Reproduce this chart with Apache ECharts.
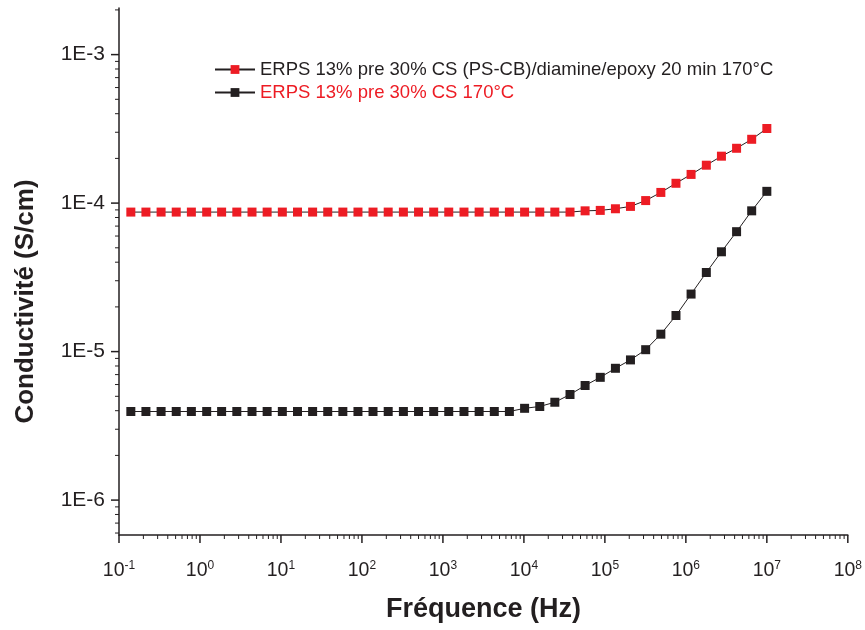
<!DOCTYPE html>
<html>
<head>
<meta charset="utf-8">
<script src="https://cdn.jsdelivr.net/npm/echarts@6/dist/echarts.min.js"></script>
<style>html,body{margin:0;padding:0;background:#fff;}#c{width:865px;height:630px;}</style>
</head>
<body>
<div id="c"></div>
<script>
// Frequencies (Hz)
var freq = [0.14, 0.215, 0.331, 0.509, 0.783, 1.21, 1.85, 2.85, 4.39, 6.75,
  10.4, 16.0, 24.6, 37.8, 58.1, 89.3, 137, 211, 325, 500,
  769, 1180, 1820, 2800, 4310, 6620, 10200, 15700, 24100, 37100,
  57000, 87700, 135000, 207000, 319000, 491000, 755000, 1160000, 1790000, 2750000,
  4230000, 6500000, 10000000];

var seriesNames = [
  'ERPS 13% pre 30% CS (PS-CB)/diamine/epoxy 20 min 170°C',
  'ERPS 13% pre 30% CS 170°C'
];

// Red series (S/cm)
var redValues = [8.7e-5, 8.7e-5, 8.7e-5, 8.7e-5, 8.7e-5, 8.7e-5, 8.7e-5, 8.7e-5, 8.7e-5, 8.7e-5,
  8.7e-5, 8.7e-5, 8.7e-5, 8.7e-5, 8.7e-5, 8.7e-5, 8.7e-5, 8.7e-5, 8.7e-5, 8.7e-5,
  8.7e-5, 8.7e-5, 8.7e-5, 8.7e-5, 8.7e-5, 8.7e-5, 8.7e-5, 8.7e-5, 8.7e-5, 8.7e-5,
  8.87e-5, 8.93e-5, 9.16e-5, 9.5e-5, 1.04e-4, 1.18e-4, 1.36e-4, 1.56e-4, 1.80e-4, 2.07e-4,
  2.34e-4, 2.69e-4, 3.18e-4];

// Black series (S/cm)
var blackValues = [3.95e-6, 3.95e-6, 3.95e-6, 3.95e-6, 3.95e-6, 3.95e-6, 3.95e-6, 3.95e-6, 3.95e-6, 3.95e-6,
  3.95e-6, 3.95e-6, 3.95e-6, 3.95e-6, 3.95e-6, 3.95e-6, 3.95e-6, 3.95e-6, 3.95e-6, 3.95e-6,
  3.95e-6, 3.95e-6, 3.95e-6, 3.95e-6, 3.95e-6, 3.95e-6, 4.15e-6, 4.27e-6, 4.56e-6, 5.14e-6,
  5.91e-6, 6.71e-6, 7.72e-6, 8.79e-6, 1.03e-5, 1.31e-5, 1.75e-5, 2.44e-5, 3.41e-5, 4.70e-5,
  6.42e-5, 8.87e-5, 1.20e-4];

// Axis ranges and major tick exponents
var xMin = 0.1, xMax = 1e8;
var yMin = 5.82e-7, yMax = 2.06e-3;
var xExponents = [-1, 0, 1, 2, 3, 4, 5, 6, 7, 8];
var yExponents = [-7, -6, -5, -4, -3];

function pairs(xs, ys) {
  var out = [];
  for (var i = 0; i < xs.length; i++) out.push([xs[i], ys[i]]);
  return out;
}

var RED = '#ED1C24', BLACK = '#231F20';
var FONT = '"Liberation Sans", Arial, sans-serif';

var chart = echarts.init(document.getElementById('c'), null, {renderer: 'canvas'});
chart.setOption({
  animation: false,
  backgroundColor: '#fff',
  grid: {left: 119, right: 15, top: 8, bottom: 95, containLabel: false},
  legend: {
    left: 209, top: 55, orient: 'vertical', itemGap: 4,
    itemWidth: 40, itemHeight: 11,
    textStyle: {fontFamily: FONT, fontSize: 18.5},
    data: [
      {name: seriesNames[0], textStyle: {color: BLACK}},
      {name: seriesNames[1], textStyle: {color: RED}}
    ]
  },
  xAxis: {
    type: 'log', logBase: 10, min: xMin, max: xMax, splitNumber: 9,
    name: 'Fréquence (Hz)', nameLocation: 'middle', nameGap: 61,
    nameTextStyle: {fontFamily: FONT, fontSize: 27, fontWeight: 'bold', color: BLACK},
    axisLine: {show: true, onZero: false, lineStyle: {color: BLACK, width: 1.5}},
    axisTick: {show: false},
    minorTick: {show: false},
    splitLine: {show: false},
    axisLabel: {
      margin: 25, color: BLACK, fontFamily: FONT,
      formatter: function (v) {
        var e = Math.round(Math.log10(v));
        return '{b|10}{s|' + e + '}';
      },
      rich: {
        b: {fontSize: 19.5, fontFamily: FONT, color: BLACK},
        s: {fontSize: 12, fontFamily: FONT, color: BLACK, padding: [0, 0, 10, 0]}
      }
    }
  },
  yAxis: {
    type: 'log', logBase: 10, min: yMin, max: yMax,
    name: 'Conductivité (S/cm)', nameLocation: 'middle', nameGap: 80,
    nameTextStyle: {fontFamily: FONT, fontSize: 26, fontWeight: 'bold', color: BLACK,
      padding: [0, 60, 0, 0]},
    axisLine: {show: true, onZero: false, lineStyle: {color: BLACK, width: 1.5}},
    axisTick: {show: false},
    minorTick: {show: false},
    splitLine: {show: false},
    axisLabel: {
      margin: 14, color: BLACK, fontFamily: FONT, fontSize: 21,
      showMinLabel: false, showMaxLabel: false,
      formatter: function (v) {
        var l = Math.log10(v);
        if (Math.abs(l - Math.round(l)) > 1e-6) return '';
        return '1E' + Math.round(l);
      }
    }
  },
  series: [
    {
      name: seriesNames[0], type: 'line', data: pairs(freq, redValues),
      symbol: 'rect', symbolSize: 9,
      itemStyle: {color: RED},
      lineStyle: {color: BLACK, width: 1}
    },
    {
      name: seriesNames[1], type: 'line', data: pairs(freq, blackValues),
      symbol: 'rect', symbolSize: 9,
      itemStyle: {color: BLACK},
      lineStyle: {color: BLACK, width: 1}
    }
  ]
});

// Log-distributed major/minor ticks drawn through the axis scales
var ticks = [];
var origin = chart.convertToPixel({gridIndex: 0}, [xMin, yMin]);
var x0 = origin[0], y0 = origin[1];
function addLine(x1, y1, x2, y2, w) {
  ticks.push({type: 'line', silent: true, z: 10,
    shape: {x1: x1, y1: y1, x2: x2, y2: y2},
    style: {stroke: BLACK, lineWidth: w}});
}
xExponents.forEach(function (e) {
  for (var k = 1; k <= 9; k++) {
    var v = k * Math.pow(10, e);
    if (v < xMin - 1e-12 || v > xMax * 1.0000001) continue;
    var px = chart.convertToPixel({xAxisIndex: 0}, v);
    if (k === 1) addLine(px, y0, px, y0 + 8, 1.5);
    else addLine(px, y0, px, y0 + 4, 1);
  }
});
yExponents.forEach(function (e) {
  for (var k = 1; k <= 9; k++) {
    var v = k * Math.pow(10, e);
    if (v < yMin || v > yMax) continue;
    var py = chart.convertToPixel({yAxisIndex: 0}, v);
    if (k === 1) addLine(x0, py, x0 - 8, py, 1.5);
    else addLine(x0, py, x0 - 4, py, 1);
  }
});
chart.setOption({graphic: ticks});
</script>
</body>
</html>
